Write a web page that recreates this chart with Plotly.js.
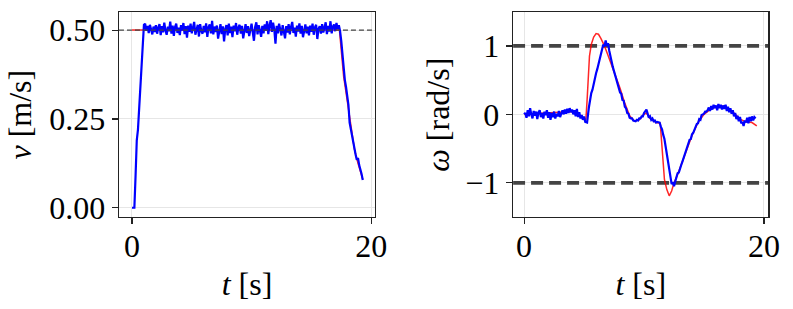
<!DOCTYPE html>
<html>
<head>
<meta charset="utf-8">
<script src="https://cdn.plot.ly/plotly-3.0.1.min.js"></script>
<style>html,body{margin:0;padding:0;background:#fff;}#chart{width:793px;height:309px;}</style>
</head>
<body>
<div id="chart"></div>
<script>
// ---- Left panel: linear velocity v [m/s] ----
const tVref = [0, 17.35, 17.7, 18.0, 18.3, 18.6, 18.9, 19.3];
const vRef  = [0.5, 0.5, 0.37, 0.30, 0.225, 0.165, 0.125, 0.08];

const tV = [0, 0.2, 0.3, 0.4, 0.5, 0.6, 0.7, 0.8, 0.9, 1.0,
  1.1,1.2,1.3,1.4,1.5,1.6,1.7,1.8,1.9,2.0,
  2.1,2.2,2.3,2.4,2.5,2.6,2.7,2.8,2.9,3.0,
  3.1,3.2,3.3,3.4,3.5,3.6,3.7,3.8,3.9,4.0,
  4.1,4.2,4.3,4.4,4.5,4.6,4.7,4.8,4.9,5.0,
  5.1,5.2,5.3,5.4,5.5,5.6,5.7,5.8,5.9,6.0,
  6.1,6.2,6.3,6.4,6.5,6.6,6.7,6.8,6.9,7.0,
  7.1,7.2,7.3,7.4,7.5,7.6,7.7,7.8,7.9,8.0,
  8.1,8.2,8.3,8.4,8.5,8.6,8.7,8.8,8.9,9.0,
  9.1,9.2,9.3,9.4,9.5,9.6,9.7,9.8,9.9,10.0,
  10.1,10.2,10.3,10.4,10.5,10.6,10.7,10.8,10.9,11.0,
  11.1,11.2,11.3,11.4,11.5,11.6,11.7,11.8,11.9,12.0,
  12.1,12.2,12.3,12.4,12.5,12.6,12.7,12.8,12.9,13.0,
  13.1,13.2,13.3,13.4,13.5,13.6,13.7,13.8,13.9,14.0,
  14.1,14.2,14.3,14.4,14.5,14.6,14.7,14.8,14.9,15.0,
  15.1,15.2,15.3,15.4,15.5,15.6,15.7,15.8,15.9,16.0,
  16.1,16.2,16.3,16.4,16.5,16.6,16.7,16.8,16.9,17.0,
  17.1,17.2,17.3,17.4,
  17.5,17.6,17.7,17.8,17.9,18.0,18.1,18.2,18.3,18.4,
  18.5,18.6,18.7,18.8,18.9,19.0,19.1,19.2,19.3];
const vMeas = [0.0, 0.0, 0.09, 0.19, 0.22, 0.28, 0.31, 0.40, 0.45, 0.515,
  0.518,0.498,0.512,0.492,0.515,0.501,0.488,0.510,0.495,0.514,
  0.490,0.507,0.517,0.486,0.511,0.494,0.521,0.499,0.487,0.510,
  0.497,0.524,0.490,0.513,0.484,0.509,0.518,0.492,0.507,0.486,
  0.514,0.499,0.520,0.489,0.511,0.479,0.513,0.495,0.518,0.491,
  0.509,0.523,0.487,0.506,0.515,0.482,0.517,0.497,0.490,0.512,
  0.494,0.519,0.481,0.508,0.516,0.491,0.526,0.488,0.510,0.495,
  0.513,0.476,0.506,0.517,0.489,0.511,0.468,0.503,0.514,0.485,
  0.518,0.492,0.510,0.480,0.513,0.497,0.520,0.487,0.507,0.515,
  0.490,0.512,0.477,0.505,0.517,0.492,0.511,0.483,0.508,0.518,
  0.494,0.470,0.509,0.522,0.488,0.514,0.498,0.481,0.512,0.491,
  0.516,0.499,0.525,0.489,0.513,0.528,0.495,0.521,0.502,0.462,
  0.512,0.491,0.518,0.497,0.485,0.514,0.499,0.477,0.511,0.493,
  0.517,0.488,0.509,0.523,0.492,0.507,0.482,0.513,0.496,0.519,
  0.490,0.512,0.480,0.506,0.516,0.491,0.510,0.485,0.513,0.495,
  0.518,0.487,0.508,0.515,0.475,0.504,0.511,0.490,0.517,0.493,
  0.508,0.522,0.489,0.512,0.496,0.525,0.491,0.510,0.516,0.497,
  0.520,0.503,0.514,0.498,
  0.47,0.43,0.39,0.36,0.34,0.32,0.29,0.24,0.22,0.20,
  0.18,0.16,0.15,0.135,0.14,0.12,0.11,0.095,0.078];

// ---- Right panel: angular velocity omega [rad/s] ----
const tWref = [0, 4.0, 5.0, 5.15, 5.25, 5.35, 5.45, 5.6, 5.8, 6.0, 6.2, 6.4, 6.7, 7.0, 7.3, 7.6,
  8.0, 8.4, 8.8, 9.2, 9.6, 10.0, 10.2, 10.5, 11.0, 11.35, 11.45, 11.55, 11.7, 11.9, 12.1,
  12.3, 12.5, 12.8, 13.2, 13.6, 14.0, 14.5, 15.0, 15.5, 16.0, 16.5, 17.0, 17.5, 18.0, 18.5, 19.0, 19.4];
const wRef = [0.0, 0.04, -0.05, -0.08, 0.2, 0.6, 0.85, 1.02, 1.13, 1.18, 1.17, 1.11, 1.0, 0.86, 0.72, 0.58,
  0.38, 0.16, -0.02, -0.1, -0.08, 0.0, 0.02, -0.06, -0.12, -0.13, -0.4, -0.7, -0.95, -1.1, -1.19,
  -1.12, -1.0, -0.88, -0.7, -0.5, -0.31, -0.12, 0.0, 0.07, 0.11, 0.12, 0.09, 0.02, -0.07, -0.11, -0.12, -0.17];

const tW = [0.0,0.1,0.2,0.3,0.4,0.5,0.6,0.7,0.8,0.9,
  1.0,1.1,1.2,1.3,1.4,1.5,1.6,1.7,1.8,1.9,
  2.0,2.1,2.2,2.3,2.4,2.5,2.6,2.7,2.8,2.9,
  3.0,3.1,3.2,3.3,3.4,3.5,3.6,3.7,3.8,3.9,
  4.0,4.1,4.2,4.3,4.4,4.5,4.6,4.7,4.8,4.9,
  5.0,5.1,5.25,5.4,5.5,5.6,5.7,5.8,5.9,6.0,
  6.1,6.2,6.3,6.4,6.5,6.6,6.7,6.8,6.9,7.0,
  7.1,7.2,7.3,7.4,7.5,7.6,7.7,7.8,7.9,8.0,
  8.1,8.2,8.3,8.4,8.5,8.6,8.7,8.8,8.9,9.0,
  9.1,9.2,9.3,9.4,9.5,9.6,9.7,9.8,9.9,10.0,
  10.1,10.2,10.3,10.4,10.5,10.6,10.7,10.8,10.9,11.0,
  11.1,11.2,11.3,11.4,11.5,11.6,11.7,11.8,11.9,12.0,
  12.1,12.2,12.3,12.4,12.5,12.6,12.7,12.8,12.9,13.0,
  13.1,13.2,13.3,13.4,13.5,13.6,13.7,13.8,13.9,14.0,
  14.1,14.2,14.3,14.4,14.5,14.6,14.7,14.8,14.9,15.0,
  15.1,15.2,15.3,15.4,15.5,15.6,15.7,15.8,15.9,16.0,
  16.1,16.2,16.3,16.4,16.5,16.6,16.7,16.8,16.9,17.0,
  17.1,17.2,17.3,17.4,17.5,17.6,17.7,17.8,17.9,18.0,
  18.1,18.2,18.3,18.4,18.5,18.6,18.7,18.8,18.9,19.0,
  19.1,19.2,19.3];
const wMeas = [0.00,0.02,-0.05,0.06,-0.03,0.09,0.00,-0.06,0.05,-0.02,
  0.04,-0.07,0.03,0.06,-0.04,0.02,-0.06,0.04,-0.01,0.06,
  -0.05,0.03,-0.08,0.02,-0.04,0.04,-0.06,0.01,-0.03,0.05,
  -0.04,0.03,0.06,0.00,0.07,0.01,0.08,0.02,0.09,0.03,
  0.07,0.00,0.06,-0.03,0.08,-0.04,0.03,-0.06,-0.01,-0.08,
  -0.03,-0.11,-0.12,0.10,0.22,0.31,0.36,0.45,0.52,0.60,
  0.66,0.74,0.83,0.90,0.95,1.02,0.99,1.08,1.00,1.04,
  0.93,0.82,0.77,0.69,0.63,0.56,0.51,0.44,0.40,0.32,
  0.30,0.21,0.20,0.11,0.09,0.02,0.01,-0.05,-0.06,-0.06,
  -0.09,-0.09,-0.10,-0.08,-0.09,-0.06,-0.06,-0.03,-0.03,0.02,
  0.04,0.07,0.01,-0.05,-0.03,-0.08,-0.06,-0.10,-0.09,-0.12,
  -0.11,-0.12,-0.12,-0.18,-0.22,-0.30,-0.36,-0.47,-0.58,-0.72,
  -0.86,-0.96,-1.02,-0.99,-1.05,-0.98,-0.93,-0.86,-0.85,-0.77,
  -0.74,-0.69,-0.64,-0.57,-0.53,-0.48,-0.44,-0.37,-0.36,-0.29,
  -0.27,-0.22,-0.19,-0.14,-0.13,-0.07,-0.08,-0.01,0.00,0.01,
  0.04,0.04,0.06,0.10,0.05,0.12,0.07,0.14,0.09,0.13,
  0.06,0.15,0.09,0.14,0.07,0.13,0.08,0.14,0.05,0.11,
  0.03,0.09,0.01,0.06,-0.03,0.02,-0.07,-0.02,-0.10,-0.04,
  -0.13,-0.11,-0.17,-0.09,-0.12,-0.05,-0.13,-0.04,-0.10,-0.03,
  -0.09,-0.04,-0.06];

// ---- Ticks, limits and axis ranges ----
const xTicks = [0, 20];
const xTickText = ['0', '20'];
const vTicks = [0, 0.25, 0.5];
const vTickText = ['0.00', '0.25', '0.50'];
const wTicks = [-1, 0, 1];
const wTickText = ['\u22121', '0', '1'];
const vLimit = [0.5];
const wLimits = [-1, 1];
const xRangeV = [-1.09, 20.33];
const xRangeW = [-0.92, 20.37];
const vRange = [-0.026, 0.55];
const wRange = [-1.5, 1.49];

const FONT = 'Liberation Serif, Times New Roman, serif';
const RED = 'rgba(255,0,0,0.85)';
const BLUE = '#0000ff';
const traces = [
  {x: tVref, y: vRef, xaxis: 'x', yaxis: 'y', mode: 'lines', line: {color: RED, width: 1.5}},
  {x: tV, y: vMeas, xaxis: 'x', yaxis: 'y', mode: 'lines', line: {color: BLUE, width: 2.2}}
];
vLimit.forEach(v => traces.push({x: xRangeV, y: [v, v], xaxis: 'x', yaxis: 'y', mode: 'lines',
  line: {color: '#444', width: 1.3, dash: '5px,3px'}}));
wLimits.forEach(v => traces.push({x: xRangeW, y: [v, v], xaxis: 'x2', yaxis: 'y2', mode: 'lines',
  line: {color: '#444', width: 3.8, dash: '12px,6px'}}));
traces.push({x: tWref, y: wRef, xaxis: 'x2', yaxis: 'y2', mode: 'lines', line: {color: RED, width: 1.5}});
traces.push({x: tW, y: wMeas, xaxis: 'x2', yaxis: 'y2', mode: 'lines', line: {color: BLUE, width: 2.2}});

const axBase = {
  showline: true, mirror: true, linecolor: '#222', linewidth: 1.3,
  ticks: 'outside', ticklen: 6, tickwidth: 1.2, tickcolor: '#222',
  showgrid: true, gridcolor: '#e6e6e6', gridwidth: 1, zeroline: false,
  tickfont: {family: FONT, size: 32, color: '#000'},
  tickmode: 'array'
};
function ax(extra) { return Object.assign({}, axBase, extra); }
const titleFont = {family: FONT, size: 32, color: '#000'};

const layout = {
  width: 793, height: 309, showlegend: false,
  margin: {l: 0, r: 0, t: 0, b: 0},
  paper_bgcolor: '#fff', plot_bgcolor: '#fff',
  font: {family: FONT, color: '#000'},
  xaxis: ax({domain: [0.150, 0.473], range: xRangeV, tickvals: xTicks, ticktext: xTickText, anchor: 'y',
    ticklabelstandoff: -6, title: {text: '<i>t</i> [s]', font: titleFont, standoff: 10}}),
  yaxis: ax({domain: [0.2977, 0.960], range: vRange, tickvals: vTicks, ticktext: vTickText, anchor: 'x',
    title: {text: '<i>v</i> [m/s]', font: titleFont, standoff: 8}}),
  xaxis2: ax({domain: [0.647, 0.969], range: xRangeW, tickvals: xTicks, ticktext: xTickText, anchor: 'y2',
    ticklabelstandoff: -6, title: {text: '<i>t</i> [s]', font: titleFont, standoff: 10}}),
  yaxis2: ax({domain: [0.2977, 0.960], range: wRange, tickvals: wTicks, ticktext: wTickText, anchor: 'x2',
    title: {text: '<i>\u03c9</i> [rad/s]', font: titleFont, standoff: 6}})
};

Plotly.newPlot('chart', traces, layout, {displayModeBar: false, staticPlot: true});
</script>
</body>
</html>
